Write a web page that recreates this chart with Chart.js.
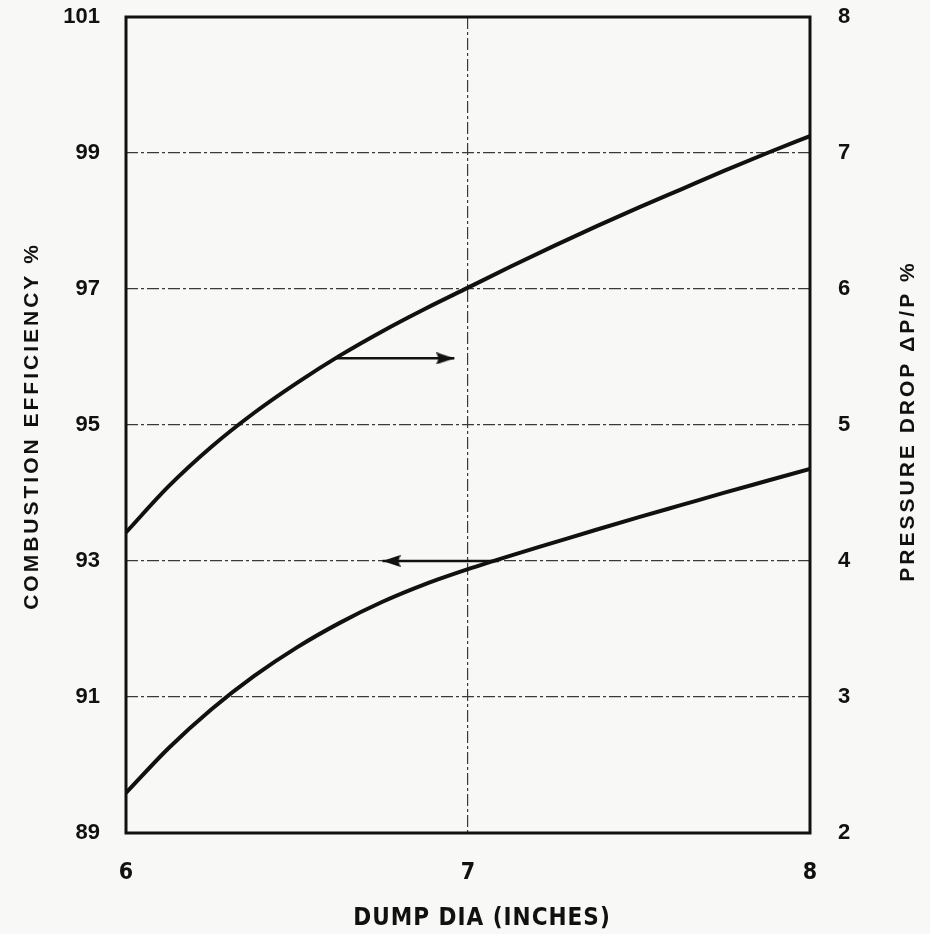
<!DOCTYPE html>
<html>
<head>
<meta charset="utf-8">
<script src="https://cdn.jsdelivr.net/npm/chart.js@4"></script>
<style>
  html, body { margin: 0; padding: 0; background: #f8f8f6; }
  #wrap { width: 930px; height: 934px; }
</style>
</head>
<body>
<div id="wrap"><canvas id="chart" width="930" height="934"></canvas></div>
<script>
// Dump diameter (inches) vs combustion efficiency and pressure drop
const dumpDia = [6.0, 6.125, 6.25, 6.375, 6.5, 6.625, 6.75, 6.875, 7.0,
                 7.125, 7.25, 7.375, 7.5, 7.625, 7.75, 7.875, 8.0];
const efficiency = [89.59, 90.25, 90.82, 91.31, 91.73, 92.09, 92.40, 92.66, 92.88,
                    93.08, 93.27, 93.46, 93.645, 93.825, 94.005, 94.18, 94.355];
const pressureDrop = [4.21, 4.55, 4.84, 5.09, 5.31, 5.51, 5.69, 5.855, 6.01,
                      6.165, 6.315, 6.46, 6.60, 6.735, 6.87, 7.00, 7.125];

// arrows telling which curve belongs to which axis
const dropArrowX = [6.61, 6.96];
const dropArrowY = 5.49;
const effArrowX = [7.09, 6.75];
const effArrowY = 93.0;

const diaTicks = [6, 7, 8];
const effTicks = [89, 91, 93, 95, 97, 99, 101];
const dropTicks = [2, 3, 4, 5, 6, 7, 8];

const effTitle = "COMBUSTION EFFICIENCY %";
const dropTitle = "PRESSURE DROP \u0394P/P %";
const diaTitle = "DUMP DIA (INCHES)";

const INK = "#111";
const GRID = "#3a3a3a";
const boldFont = '"Liberation Sans", Arial, sans-serif';
const narrowFont = '"Liberation Sans Narrow", "DejaVu Sans Condensed", sans-serif';

// arrowhead image, tip at the centre so the point sits on the tip
function makeArrowHead(len, half) {
  const c = document.createElement("canvas");
  c.width = len * 2;
  c.height = half * 2;
  const g = c.getContext("2d");
  g.fillStyle = INK;
  g.beginPath();
  g.moveTo(len, half);
  g.lineTo(0, 0);
  g.lineTo(len * 0.12, half);
  g.lineTo(0, half * 2);
  g.closePath();
  g.fill();
  return c;
}
const arrowHead = makeArrowHead(18, 6);

const toPoints = (xs, ys) => xs.map((x, i) => ({ x: x, y: ys[i] }));

function arrowDataset(xs, y, axis, rotation) {
  return {
    data: xs.map((x) => ({ x: x, y: y })),
    yAxisID: axis,
    borderColor: INK,
    borderWidth: 2.5,
    tension: 0,
    pointStyle: arrowHead,
    pointRotation: rotation,
    pointRadius: (ctx) => (ctx.dataIndex === 1 ? 6 : 0),
    pointHoverRadius: 0,
  };
}

// frame around the plot area
const frame = {
  id: "frame",
  beforeDatasetsDraw(chart) {
    const { ctx, chartArea: a } = chart;
    ctx.save();
    ctx.strokeStyle = INK;
    ctx.lineWidth = 3;
    ctx.strokeRect(a.left, a.top, a.right - a.left, a.bottom - a.top);
    ctx.restore();
  },
};

// axis titles (both vertical ones read bottom to top)
const axisTitles = {
  id: "axisTitles",
  afterDraw(chart) {
    const { ctx, chartArea: a } = chart;
    const midY = (a.top + a.bottom) / 2;
    ctx.save();
    ctx.fillStyle = INK;
    ctx.textAlign = "center";
    ctx.textBaseline = "middle";
    ctx.font = "bold 21px " + boldFont;
    ctx.letterSpacing = "3px";

    ctx.save();
    ctx.translate(32, midY + 1);
    ctx.rotate(-Math.PI / 2);
    ctx.fillText(effTitle, 0, 0);
    ctx.restore();

    ctx.save();
    ctx.translate(a.right + 98, midY - 4);
    ctx.rotate(-Math.PI / 2);
    ctx.fillText(dropTitle, 0, 0);
    ctx.restore();

    ctx.letterSpacing = "1px";
    ctx.font = "bold 24px " + narrowFont;
    ctx.fillText(diaTitle, (a.left + a.right) / 2 + 14, a.bottom + 86);
    ctx.restore();
  },
};

const setTicks = (values) => (scale) => {
  scale.ticks = values.map((v) => ({ value: v }));
};

// keep the plot area edges where the layout padding puts them
const fixWidth = (w) => (s) => {
  s.width = w;
  s.paddingTop = 0;
  s.paddingBottom = 0;
};

new Chart(document.getElementById("chart"), {
  type: "line",
  data: {
    datasets: [
      {
        data: toPoints(dumpDia, pressureDrop),
        yAxisID: "yDrop",
        borderColor: INK,
        borderWidth: 4,
        cubicInterpolationMode: "monotone",
        pointRadius: 0,
      },
      {
        data: toPoints(dumpDia, efficiency),
        yAxisID: "yEff",
        borderColor: INK,
        borderWidth: 4,
        cubicInterpolationMode: "monotone",
        pointRadius: 0,
      },
      arrowDataset(dropArrowX, dropArrowY, "yDrop", 0),
      arrowDataset(effArrowX, effArrowY, "yEff", 180),
    ],
  },
  options: {
    responsive: false,
    animation: false,
    layout: { padding: { top: 17, left: 0, right: 0, bottom: 0 } },
    plugins: {
      legend: { display: false },
      tooltip: { enabled: false },
    },
    scales: {
      x: {
        type: "linear",
        min: 6,
        max: 8,
        afterBuildTicks: setTicks(diaTicks),
        afterFit: (s) => { s.height = 101; },
        ticks: {
          autoSkip: false,
          maxRotation: 0,
          padding: 26,
          color: INK,
          font: { family: narrowFont, size: 23, weight: "bold" },
        },
        grid: {
          drawTicks: false,
          lineWidth: 1.2,
          color: (ctx) => (ctx.tick && ctx.tick.value === 7 ? GRID : "transparent"),
        },
        border: { display: false, dash: [12, 3, 3, 3] },
      },
      yEff: {
        type: "linear",
        position: "left",
        min: 89,
        max: 101,
        afterBuildTicks: setTicks(effTicks),
        afterFit: fixWidth(126),
        ticks: {
          padding: 26,
          color: INK,
          font: { family: boldFont, size: 22, weight: "bold" },
        },
        grid: {
          drawTicks: false,
          lineWidth: 1.3,
          color: (ctx) => {
            const v = ctx.tick && ctx.tick.value;
            return v === 89 || v === 101 ? "transparent" : GRID;
          },
        },
        border: { display: false, dash: [12, 3, 3, 3] },
      },
      yDrop: {
        type: "linear",
        position: "right",
        min: 2,
        max: 8,
        afterBuildTicks: setTicks(dropTicks),
        afterFit: fixWidth(120),
        ticks: {
          padding: 28,
          color: INK,
          font: { family: boldFont, size: 22, weight: "bold" },
        },
        grid: { display: false, drawTicks: false },
        border: { display: false },
      },
    },
  },
  plugins: [frame, axisTitles],
});
</script>
</body>
</html>
